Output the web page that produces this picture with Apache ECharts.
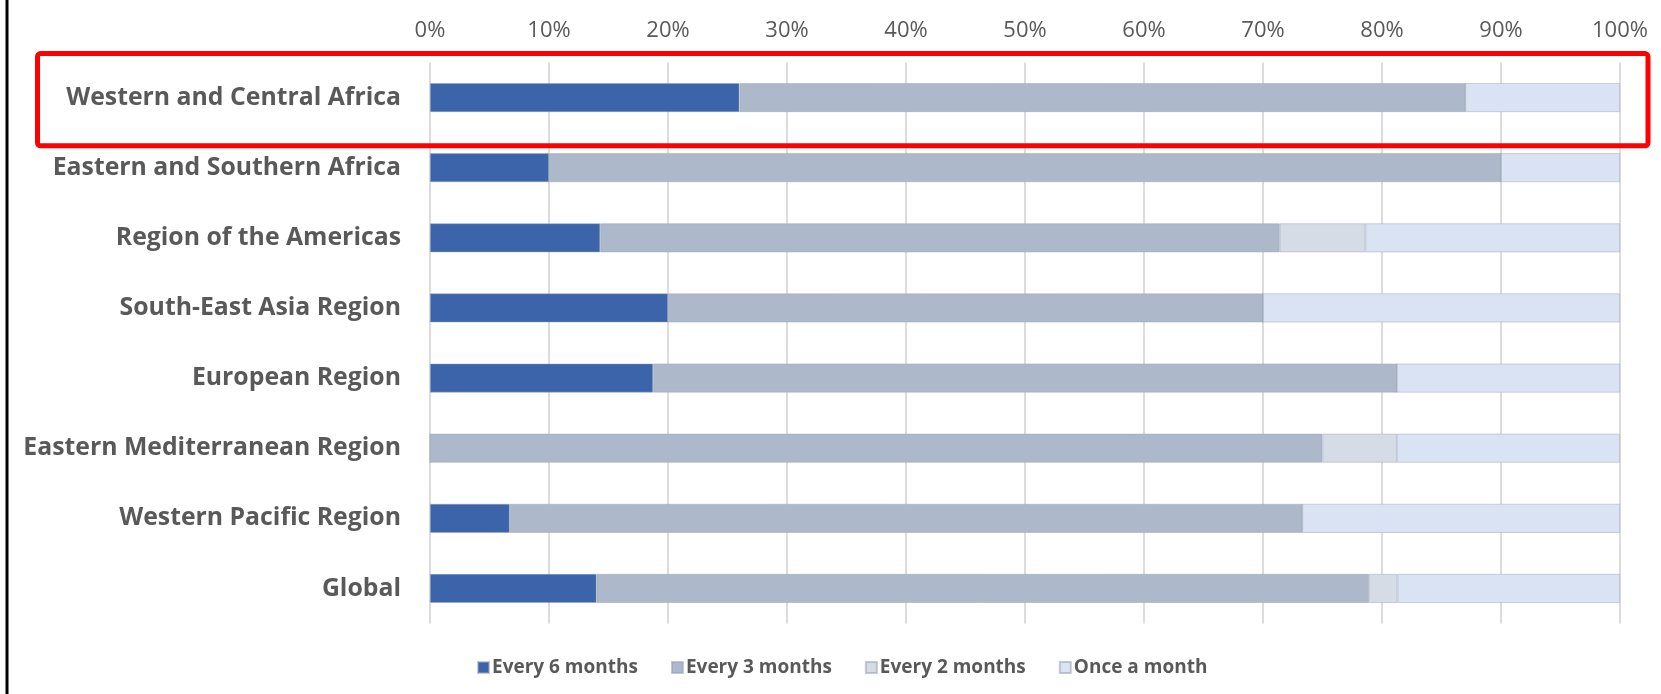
<!DOCTYPE html>
<html>
<head>
<meta charset="utf-8">
<script src="https://cdn.jsdelivr.net/npm/echarts@6/dist/echarts.min.js"></script>
<style>
  html, body { margin: 0; padding: 0; background: #ffffff; }
  #chart { width: 1661px; height: 694px; }
</style>
</head>
<body>
<div id="chart"></div>
<script>
// ---- Data (percent of countries) ----
const categories = [
  "Western and Central Africa",
  "Eastern and Southern Africa",
  "Region of the Americas",
  "South-East Asia Region",
  "European Region",
  "Eastern Mediterranean Region",
  "Western Pacific Region",
  "Global"
];
const seriesNames = ["Every 6 months", "Every 3 months", "Every 2 months", "Once a month"];
const every6Months = [26.0, 10.0, 14.3, 20.0, 18.75, 0.0, 6.7, 14.0];
const every3Months = [61.0, 80.0, 57.1, 50.0, 62.5, 75.0, 66.6, 64.9];
const every2Months = [0.0, 0.0, 7.2, 0.0, 0.0, 6.25, 0.0, 2.4];
const onceAMonth   = [13.0, 10.0, 21.4, 30.0, 18.75, 18.75, 26.7, 18.7];
const tickValues = [0, 10, 20, 30, 40, 50, 60, 70, 80, 90, 100];

const colors = ["#3c64ab", "#adb8ca", "#d5dce6", "#dae3f3"];
const seriesData = [every6Months, every3Months, every2Months, onceAMonth];

const chart = echarts.init(document.getElementById('chart'), null, { renderer: 'canvas' });

const option = {
  animation: false,
  backgroundColor: '#ffffff',
  color: colors,
  grid: { left: 430, right: 41, top: 62.5, bottom: 70.5, containLabel: false },
  xAxis: {
    type: 'value',
    position: 'top',
    min: tickValues[0],
    max: tickValues[tickValues.length - 1],
    interval: tickValues[1] - tickValues[0],
    axisLine: { show: false },
    axisTick: { show: false },
    axisLabel: {
      formatter: '{value}%',
      color: '#595959',
      fontFamily: 'Open Sans',
      fontSize: 22,
      margin: 21
    },
    splitLine: { show: true, lineStyle: { color: '#d0d0d0', width: 1.5 } }
  },
  yAxis: {
    type: 'category',
    data: categories,
    inverse: true,
    axisLine: { show: false },
    axisTick: { show: false },
    axisLabel: {
      color: '#595959',
      fontFamily: 'Open Sans',
      fontWeight: 'bold',
      fontSize: 24.8,
      margin: 29
    },
    splitLine: { show: false }
  },
  legend: {
    data: seriesNames,
    left: 472,
    top: 653,
    itemWidth: 11,
    itemHeight: 11,
    itemGap: 33,
    icon: 'rect',
    textStyle: { color: '#595959', fontFamily: 'Open Sans', fontWeight: 'bold', fontSize: 19, padding: [0, 0, 0, -2] }
  },
  series: seriesNames.map((name, i) => ({
    name: name,
    type: 'bar',
    stack: 'total',
    barWidth: 29,
    data: seriesData[i],
    itemStyle: { color: colors[i], borderColor: 'rgba(150,160,180,0.55)', borderWidth: 0.8 },
    emphasis: { disabled: true }
  }))
};
chart.setOption(option);

// Annotation: red box around the first category row, and left frame line
const cy = chart.convertToPixel({ yAxisIndex: 0 }, categories[0]);
chart.setOption({
  graphic: [
    {
      type: 'rect',
      shape: { x: 37.5, y: cy - 44, width: 1610.5, height: 92.3, r: 3 },
      style: { fill: 'none', stroke: '#ff0000', lineWidth: 5 },
      z: 100
    },
    {
      type: 'line',
      shape: { x1: 7, y1: 0, x2: 7, y2: 694 },
      style: { stroke: '#000000', lineWidth: 3 },
      z: 100
    }
  ]
});
</script>
</body>
</html>
